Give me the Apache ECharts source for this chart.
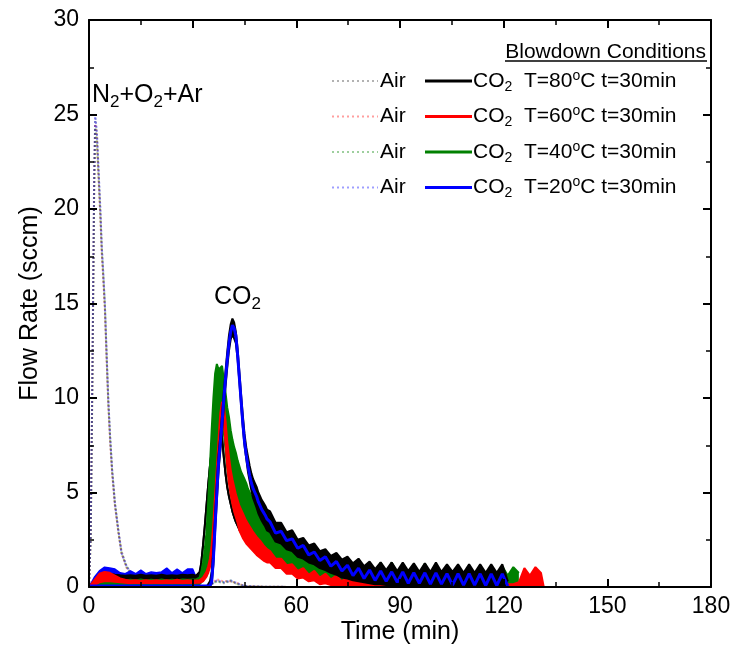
<!DOCTYPE html>
<html><head><meta charset="utf-8">
<script src="https://cdn.jsdelivr.net/npm/echarts@6/dist/echarts.min.js"></script>
<style>html,body{margin:0;padding:0;background:#fff}#c{width:734px;height:645px}</style>
</head><body><div id="c"></div>
<script>
// ---- time grid (min) shared by the CO2 curves ----
const T = [0,1.5,3,4.5,6,7.5,9,10.5,12,13.5,15,16.5,18,19.5,21,22.5,24,25.5,27,28.5,30,
30.5,31,31.5,32,32.5,33,33.5,34,34.5,35,35.5,36,36.5,37,37.5,38,38.5,39,39.5,40,40.5,41,41.5,42,42.5,43,43.5,44,44.5,45,45.5,46,46.5,47,47.5,48,48.5,49,49.5,50,50.5,51,51.5,
52.4,54,55.6,57.2,58.8,60.4,62,63.6,65.2,66.8,68.4,70,71.6,73.2,74.8,76.4,78,79.6,81.2,82.8,84.4,86,87.6,89.2,90.8,92.4,94,95.6,97.2,98.8,100.4,102,103.6,105.2,106.8,108.4,110,111.6,113.2,114.8,116.4,118,119.6,121.2,122.8,124.4,126,127.6,129.2,130.8,131.6];

// ---- Air (dotted) ----
const AIR_T = [0,0.5,1,1.5,1.8,2.3,2.8,3.3,3.7,4.1,4.6,5.1,5.6,6.1,6.7,7.5,8.5,9.4,10.9,12.3,14,16,18,20,25,30,33,35,37,39,41,43,45,50,60];
const AIR_BLACK = [0,2.5,11,21,24.8,24,21.8,19.8,18,16.5,14.8,12.3,9.8,8.0,6.2,4.5,3.0,1.9,1.1,0.7,0.4,0.2,0.1,0.05,0.02,0.02,0.02,0.08,0.3,0.2,0.3,0.15,0.05,0.02,0];
const AIR_RED   = [0,2.8,11.5,21.5,24.5,23.6,21.5,19.5,17.6,16.4,14.6,12.0,9.6,7.7,6.0,4.3,2.9,1.8,1.0,0.7,0.4,0.2,0.1,0.05,0.02,0.02,0.02,0.12,0.4,0.3,0.3,0.2,0.05,0.02,0];
const AIR_GREEN = [0,2.6,11.2,21,24.3,23.5,21.6,19.6,17.8,16.6,14.9,12.2,9.7,7.9,6.1,4.4,2.9,1.8,1.05,0.72,0.4,0.2,0.1,0.05,0.02,0.02,0.02,0.1,0.3,0.25,0.35,0.15,0.05,0.02,0];
const AIR_BLUE  = [0,3,12,22,25,24,22,20,18,16.8,15,12.4,9.9,8.0,6.2,4.4,3.0,1.8,1.07,0.72,0.4,0.2,0.1,0.05,0.02,0.02,0.02,0.1,0.35,0.25,0.35,0.2,0.05,0.02,0];

// ---- CO2 bands: lower / upper envelope of the fast-oscillating signals ----
const BLUEA_HI = [0,0.5,0.85,1.05,1.0,0.95,0.75,0.7,0.85,0.7,0.9,0.7,0.8,0.75,0.8,1.0,0.75,0.95,0.75,0.95,0.95, 0.9,0.5,0.1];
const BLUEA_LO = [0,0,0,0,0,0,0,0,0,0,0,0,0,0,0,0,0,0,0,0,0, 0,0,0];

const GREEN_HI = [0,0.25,0.4,0.45,0.42,0.4,0.38,0.35,0.38,0.35,0.4,0.35,0.38,0.35,0.4,0.35,0.38,0.35,0.4,0.38,0.4,
0.4,0.4,0.45,0.5,0.8,1.3,2.0,2.9,4.5,6.4,8.3,10.0,11.3,11.8,11.5,11.4,11.7,11.0,10.3,9.5,9.0,8.3,7.8,7.4,7.1,6.7,6.4,6.1,5.9,5.7,5.5,5.2,5.0,4.8,4.6,4.4,4.25,4.1,3.95,3.8,3.6,3.45,3.3,
3.3,2.7,2.6,2.1,2.15,1.7,1.85,1.4,1.6,1.2,1.45,1.0,1.35,0.9,1.25,0.8,1.2,0.75,1.2,0.7,1.3,0.7,1.3,0.7,1.15,0.65,1.15,0.65,1.25,0.65,1.1,0.65,1.1,0.6,1.1,0.6,1.1,0.6,1.15,0.6,1.1,0.6,1.1,0.6,1.05,0.75];
const GREEN_LO = [0,0.05,0.1,0.12,0.12,0.12,0.1,0.12,0.1,0.12,0.1,0.12,0.1,0.12,0.1,0.12,0.1,0.12,0.1,0.12,0.12,
0.12,0.12,0.12,0.15,0.2,0.35,0.45,0.6,0.9,1.4,2.2,3.2,4.8,6.6,8.2,8.8,8.8,8.2,7.3,6.3,5.6,5.0,4.5,4.1,3.8,3.55,3.3,3.1,2.95,2.8,2.65,2.55,2.45,2.35,2.25,2.15,2.1,2.0,1.95,1.9,1.8,1.75,1.65,
1.5,1.3,1.25,1.0,1.0,0.8,0.75,0.6,0.6,0.45,0.45,0.35,0.3,0.25,0.25,0.2,0.2,0.15,0.15,0.1,0.12,0.1,0.12,0.1,0.1,0.1,0.1,0.1,0.1,0.08,0.08,0.08,0.08,0.08,0.08,0.08,0.08,0.05,0.05,0.05,0.05,0.05,0.05,0.03,0.03,0.03];

const BLACKA_HI = [0,0.3,0.6,0.72,0.7,0.65,0.62,0.6,0.62,0.6,0.65,0.6,0.62,0.6,0.65,0.6,0.62,0.6,0.65,0.62,0.65,
0.65,0.6,0.65,0.8,1.3,2.2,3.2,4.3,5.4,6.4,7.2,7.8,8.2,8.4,8.6,8.4,7.9,6.9,6.0,5.3,4.8,4.4,4.0,3.7,3.45,3.25,3.05,2.9,2.75,2.6,2.5,2.4,2.3,2.2,2.1,2.05,2.0,1.95,1.9,1.85,1.8,1.75,1.7];
const BLACKA_LO = [0,0.15,0.35,0.42,0.42,0.4,0.4,0.4,0.4,0.4,0.42,0.4,0.4,0.4,0.42,0.4,0.4,0.4,0.42,0.4,0.42,
0.42,0.4,0.42,0.5,1.3,2.2,3.2,4.3,5.4,6.4,7.2,7.8,8.2,8.4,8.6,8.4,7.9,6.9,6.0,5.3,4.8,4.4,4.0,3.7,3.45,3.25,3.05,2.9,2.75,2.6,2.5,2.4,2.3,2.2,2.1,2.05,2.0,1.95,1.9,1.85,1.8,1.75,1.7];

const RED_HI = [0,0.35,0.7,0.8,0.75,0.6,0.45,0.38,0.33,0.36,0.32,0.36,0.32,0.36,0.32,0.36,0.32,0.38,0.32,0.36,0.32,
0.32,0.35,0.32,0.35,0.4,0.5,0.6,0.8,1.1,1.5,2.2,3.4,4.9,6.3,7.8,9.2,9.8,9.6,8.8,7.7,6.9,6.2,5.7,5.3,4.9,4.6,4.3,4.1,3.9,3.7,3.5,3.35,3.2,3.05,2.9,2.8,2.65,2.55,2.45,2.35,2.2,2.1,2.0,
1.9,1.5,1.5,1.15,1.2,0.85,1.0,0.65,0.85,0.5,0.7,0.4,0.6,0.3,0.6,0.25,0.55,0.25,0.55,0.25,0.55,0.25,0.55,0.25,0.55,0.25,0.55,0.25,0.55,0.25,0.6,0.25,0.55,0.25,0.55,0.25,0.55,0.25,0.55,0.25,0.55,0.25,0.55,0.15,0.15,0.25,1.0,0.6,1.05,0.75,0];
const RED_LO = [0,0.1,0.25,0.3,0.3,0.28,0.25,0.22,0.2,0.22,0.2,0.22,0.2,0.22,0.2,0.22,0.2,0.22,0.2,0.22,0.2,
0.2,0.22,0.2,0.22,0.25,0.3,0.4,0.55,0.75,1.05,1.5,2.3,3.5,5.0,6.4,7.9,9.1,8.8,7.6,6.4,5.5,4.9,4.4,4.0,3.7,3.4,3.0,2.8,2.6,2.45,2.3,2.2,2.1,2.0,1.9,1.8,1.7,1.6,1.55,1.5,1.4,1.35,1.3,
1.3,1.0,1.0,0.7,0.7,0.45,0.5,0.3,0.35,0.15,0.2,0.1,0.05,0.05,0.05,0.05,0.05,0.05,0.05,0.05,0.05,0.05,0.05,0.05,0.05,0.05,0.05,0.05,0.05,0.05,0.05,0.05,0.05,0.05,0.05,0.05,0.05,0.05,0.05,0.05,0.05,0.05,0.05,0.03,0.03,0.03,0.02,0.02,0.02,0.02,0];

const BLACKB_HI = [0,0,0,0,0,0,0,0,0,0,0,0,0,0,0,0,0,0,0,0,0,
0,0,0,0,0,0,0,0,0.1,0.3,0.8,2.0,3.8,5.5,7.0,8.0,9.1,10.3,11.4,12.4,13.3,13.9,14.2,14.0,13.5,12.6,11.4,10.2,9.1,8.1,7.4,6.9,6.4,6.0,5.7,5.5,5.3,5.0,4.8,4.6,4.45,4.3,4.1,
4.0,3.4,3.4,2.9,3.0,2.5,2.6,2.2,2.3,1.9,2.0,1.65,1.8,1.45,1.6,1.25,1.5,1.1,1.35,0.95,1.3,0.9,1.3,0.85,1.3,0.85,1.25,0.8,1.25,0.8,1.3,0.8,1.2,0.8,1.2,0.75,1.2,0.75,1.2,0.75,1.2,0.75,1.2,0.3];
const BLACKB_LO = [0,0,0,0,0,0,0,0,0,0,0,0,0,0,0,0,0,0,0,0,0,
0,0,0,0,0,0,0,0,0,0.05,0.2,1.2,3.0,4.6,6.2,7.2,8.3,9.5,10.6,11.6,12.5,13.1,13.4,13.3,12.9,12.1,10.9,9.7,8.5,7.5,6.8,6.1,5.6,5.1,4.7,4.45,4.2,3.9,3.7,3.5,3.35,3.2,3.0,
2.9,2.4,2.3,2.0,1.9,1.6,1.5,1.3,1.2,1.0,0.9,0.75,0.65,0.5,0.45,0.35,0.3,0.25,0.2,0.15,0.15,0.1,0.1,0.1,0.1,0.08,0.08,0.08,0.08,0.08,0.05,0.05,0.05,0.05,0.05,0.05,0.05,0.05,0.05,0.05,0.05,0.05,0.05,0.02];

const BLUEB = [0.05,0.05,0.05,0.05,0.05,0.05,0.05,0.05,0.05,0.05,0.05,0.05,0.05,0.05,0.05,0.05,0.05,0.05,0.05,0.05,0.05,
0.05,0.05,0.05,0.05,0.05,0.05,0.05,0.05,0.05,0.05,0.3,1.5,3.3,5.0,6.6,7.6,8.7,9.9,11.0,12.0,12.9,13.5,13.85,13.7,13.3,12.3,11.1,9.9,8.7,7.7,7.0,6.4,5.9,5.5,5.2,5.0,4.8,4.5,4.3,4.1,3.95,3.8,3.6,
3.45,2.85,2.95,2.45,2.55,2.05,2.2,1.7,1.85,1.4,1.6,1.1,1.35,0.85,1.15,0.6,1.0,0.45,0.9,0.35,0.85,0.3,0.8,0.25,0.8,0.2,0.75,0.2,0.75,0.15,0.75,0.15,0.7,0.1,0.7,0.1,0.7,0.1,0.7,0.08,0.7,0.08,0.7,0.05];

// ---- axis ticks ----
const X_TICKS = [0, 180, 30];
const Y_TICKS = [0, 30, 5];

const FONT = 'Liberation Sans, Arial, Helvetica, sans-serif';
const C = {black:'#000000', red:'#ff0000', green:'#008000', blue:'#0000ff'};
const PALE = {black:'rgba(0,0,0,0.3)', red:'rgba(255,0,0,0.38)', green:'rgba(0,128,0,0.38)', blue:'rgba(0,0,255,0.38)'};

function airSeries(vals, color) {
  return {type:'line', z:1, data: vals.map((v,i)=>[AIR_T[i], v]), symbol:'none', silent:true,
    lineStyle:{color, width:2, type:[2,2]}};
}
// data stored as [value, time] so that the value (y) is the first, stacked dimension
function band(id, color, lo, hi, w, z) {
  return [
    {type:'line', z, id:id+'lo', stack:id, encode:{x:1, y:0}, data: lo.map((v,i)=>[v, T[i]]), symbol:'none', silent:true,
      lineStyle:{color, width:w}},
    {type:'line', z, id:id+'hi', stack:id, encode:{x:1, y:0}, data: hi.map((v,i)=>[+(v-lo[i]).toFixed(3), T[i]]), symbol:'none', silent:true,
      lineStyle:{color, width:w}, areaStyle:{color, opacity:1}}
  ];
}

const series = [
  airSeries(AIR_BLACK, PALE.black), airSeries(AIR_RED, PALE.red),
  airSeries(AIR_GREEN, PALE.green), airSeries(AIR_BLUE, PALE.blue),
  ...band('ba', C.blue, BLUEA_LO, BLUEA_HI, 1.5, 2),
  ...band('ka', C.black, BLACKA_LO, BLACKA_HI, 2, 3),
  ...band('g', C.green, GREEN_LO, GREEN_HI, 2, 4),
  ...band('r', C.red, RED_LO, RED_HI, 2, 5),
  ...band('kb', C.black, BLACKB_LO, BLACKB_HI, 2, 6),
  {type:'line', z:7, data: BLUEB.map((v,i)=>[T[i], v]), symbol:'none', silent:true, lineStyle:{color:C.blue, width:3}}
];

function axis(extra) {
  return Object.assign({
    type:'value', splitLine:{show:false}, z:10,
    axisLine:{show:true, onZero:false, lineStyle:{color:'#000', width:2}},
    axisTick:{show:true, inside:true, length:8, lineStyle:{color:'#000', width:2}},
    minorTick:{show:true, splitNumber:2, length:5, lineStyle:{color:'#000', width:1.5}},
    axisLabel:{show:false}
  }, extra);
}
const lab = {show:true, color:'#000', fontSize:23, fontFamily:FONT, showMinLabel:true, showMaxLabel:true};

// ---- legend (drawn as graphic) ----
const rows = [['black','80',81],['red','60',116.5],['green','40',152],['blue','20',187.5]];
const rich = {
  n:{fontSize:21, fontFamily:FONT, fill:'#000'},
  s:{fontSize:14, fontFamily:FONT, fill:'#000', padding:[12,0,0,0]},
  p:{fontSize:14, fontFamily:FONT, fill:'#000', padding:[0,0,10,0]},
  N:{fontSize:25, fontFamily:FONT, fill:'#000'},
  S:{fontSize:17, fontFamily:FONT, fill:'#000', padding:[14,0,0,0]}
};
const graphic = [
  {type:'text', x:706, y:52, z:100, style:{text:'Blowdown Conditions', font:'21px '+FONT, fill:'#000', align:'right', verticalAlign:'middle'}},
  {type:'line', z:100, shape:{x1:505, y1:61, x2:707, y2:61}, style:{stroke:'#000', lineWidth:1.5}}
];
rows.forEach(([k, temp, y]) => {
  graphic.push({type:'line', z:100, shape:{x1:332, y1:y, x2:378, y2:y}, style:{stroke:PALE[k], lineWidth:2, lineDash:[2,3]}});
  graphic.push({type:'text', z:100, x:380, y:y, style:{text:'Air', font:'21px '+FONT, fill:'#000', align:'left', verticalAlign:'middle'}});
  graphic.push({type:'line', z:100, shape:{x1:425, y1:y, x2:472, y2:y}, style:{stroke:C[k], lineWidth:3}});
  graphic.push({type:'text', z:100, x:473, y:y, style:{text:'{n|CO}{s|2}{n|  T='+temp+'}{p|o}{n|C t=30min}', rich, align:'left', verticalAlign:'middle'}});
});
graphic.push({type:'text', z:100, x:92, y:95, style:{text:'{N|N}{S|2}{N|+O}{S|2}{N|+Ar}', rich, align:'left', verticalAlign:'middle'}});
graphic.push({type:'text', z:100, x:214, y:297, style:{text:'{N|CO}{S|2}', rich, align:'left', verticalAlign:'middle'}});

const chart = echarts.init(document.getElementById('c'), null, {renderer:'canvas'});
chart.setOption({
  animation:false,
  backgroundColor:'#fff',
  grid:{left:89, right:23, top:20, bottom:58, containLabel:false, outerBoundsMode:'none'},
  xAxis:[
    axis({min:X_TICKS[0], max:X_TICKS[1], interval:X_TICKS[2], position:'bottom',
      axisLabel:Object.assign({margin:8}, lab),
      name:'Time (min)', nameLocation:'middle', nameGap:33, nameMoveOverlap:false,
      nameTextStyle:{color:'#000', fontSize:25, fontFamily:FONT}}),
    axis({min:X_TICKS[0], max:X_TICKS[1], interval:X_TICKS[2], position:'top'})
  ],
  yAxis:[
    axis({min:Y_TICKS[0], max:Y_TICKS[1], interval:Y_TICKS[2], position:'left',
      axisLabel:Object.assign({margin:10}, lab),
      name:'Flow Rate (sccm)', nameLocation:'middle', nameGap:46, nameMoveOverlap:false,
      nameTextStyle:{color:'#000', fontSize:25, fontFamily:FONT}}),
    axis({min:Y_TICKS[0], max:Y_TICKS[1], interval:Y_TICKS[2], position:'right'})
  ],
  series: series,
  graphic: graphic
});
</script></body></html>
